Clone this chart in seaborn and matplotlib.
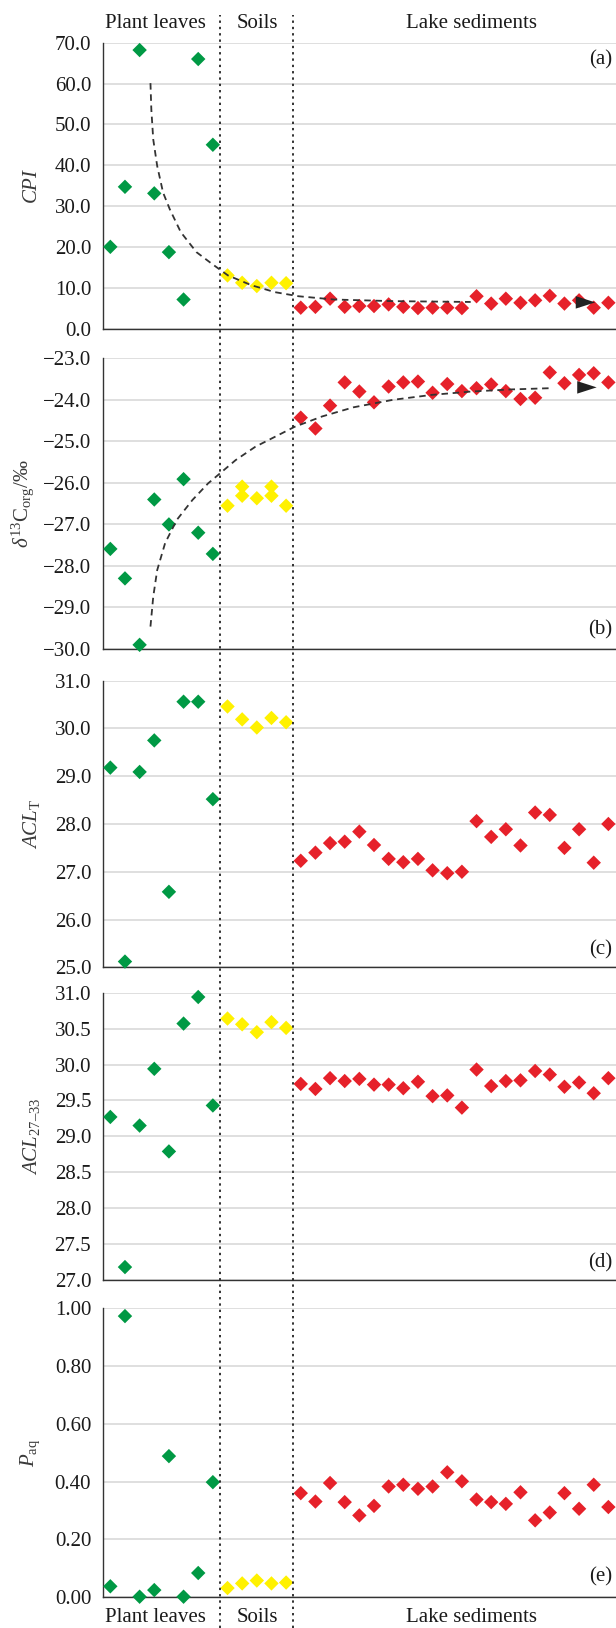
import numpy as np
import pandas as pd
import matplotlib
matplotlib.use("Agg")
import matplotlib.pyplot as plt
from matplotlib.lines import Line2D
from matplotlib.ticker import FuncFormatter, MultipleLocator
from matplotlib.transforms import blended_transform_factory
import seaborn as sns

# ---------------- data ----------------
groups = ["Plant leaves", "Soils", "Lake sediments"]
group_sizes = [8, 5, 22]

cpi_leaves = [20.0, 34.7, 68.2, 33.1, 18.7, 7.1, 66.0, 45.0]
cpi_soils = [13.0, 11.2, 10.4, 11.2, 11.1]
cpi_lake = [5.1, 5.3, 7.3, 5.3, 5.5, 5.5, 5.9, 5.3, 5.0, 5.1, 5.1,
            5.0, 7.9, 6.1, 7.3, 6.3, 6.9, 8.0, 6.1, 6.9, 5.1, 6.3]

d13c_leaves = [-27.59, -28.30, -29.90, -26.40, -27.00, -25.91, -27.20, -27.71]
d13c_soils = [-26.55, -26.09, -26.31, -26.37, -26.09, -26.31, -26.55]
d13c_soil_samples = [1, 2, 2, 3, 4, 4, 5]
d13c_lake = [-24.43, -24.69, -24.14, -23.58, -23.80, -24.06, -23.68, -23.58,
             -23.56, -23.83, -23.62, -23.79, -23.72, -23.63, -23.79, -23.98,
             -23.95, -23.34, -23.60, -23.40, -23.36, -23.58]

aclt_leaves = [29.18, 25.12, 29.09, 29.75, 26.58, 30.56, 30.56, 28.52]
aclt_soils = [30.46, 30.19, 30.02, 30.22, 30.13]
aclt_lake = [27.23, 27.40, 27.60, 27.63, 27.84, 27.56, 27.27, 27.20, 27.27,
             27.03, 26.97, 27.00, 28.06, 27.73, 27.89, 27.55, 28.24, 28.19,
             27.50, 27.89, 27.19, 28.00]

acl2733_leaves = [29.27, 27.18, 29.15, 29.94, 28.79, 30.57, 30.94, 29.43]
acl2733_soils = [30.64, 30.56, 30.45, 30.59, 30.51]
acl2733_lake = [29.73, 29.66, 29.81, 29.77, 29.80, 29.72, 29.72, 29.67, 29.76,
                29.56, 29.57, 29.40, 29.93, 29.70, 29.77, 29.78, 29.91, 29.86,
                29.69, 29.75, 29.60, 29.81]

paq_leaves = [0.038, 0.972, 0.002, 0.025, 0.488, 0.002, 0.084, 0.398]
paq_soils = [0.032, 0.048, 0.058, 0.048, 0.051]
paq_lake = [0.360, 0.331, 0.395, 0.329, 0.283, 0.316, 0.383, 0.389, 0.375,
            0.383, 0.432, 0.401, 0.338, 0.329, 0.323, 0.363, 0.266, 0.293,
            0.360, 0.306, 0.389, 0.312]

# hand-drawn trend curves, last point = arrow tip
trend_a_x = [3.24, 3.30, 3.43, 3.70, 4.10, 4.56, 5.31, 6.38, 7.45, 8.53,
             10.13, 11.74, 13.35, 15.76, 19.8, 25.1, 33.6]
trend_a_y = [60.1, 53.6, 46.3, 39.8, 33.3, 29.2, 23.6, 18.7, 15.8, 13.0,
             10.6, 8.9, 7.9, 7.1, 6.7, 6.5, 6.4]
trend_b_x = [3.24, 3.43, 3.70, 4.24, 5.04, 6.11, 7.18, 7.99, 9.06, 10.40,
             11.74, 13.08, 14.96, 17.10, 19.79, 22.47, 25.15, 27.83, 30.5, 33.7]
trend_b_y = [-29.46, -28.74, -28.10, -27.45, -26.89, -26.41, -26.01, -25.77,
             -25.45, -25.13, -24.89, -24.65, -24.40, -24.18, -24.00, -23.88,
             -23.80, -23.75, -23.72, -23.70]

panel_letters = ["(a)", "(b)", "(c)", "(d)", "(e)"]
ylabels = [r"$CPI$",
           r"$\delta^{13}\mathrm{C}_{\mathrm{org}}$/‰",
           r"$ACL_{\mathrm{T}}$",
           r"$ACL_{27–33}$",
           r"$P_{\mathrm{aq}}$"]
ylims = [(0, 70), (-30, -23), (25, 31), (27, 31), (0, 1)]
ytick_steps = [10, 1, 1, 0.5, 0.2]
ytick_decimals = [1, 1, 1, 1, 2]

# ---------------- style ----------------
sns.set_style("white")
plt.rcParams["font.family"] = ["Liberation Serif", "DejaVu Serif"]
plt.rcParams["mathtext.fontset"] = "custom"
plt.rcParams["mathtext.rm"] = "Liberation Serif"
plt.rcParams["mathtext.it"] = "Liberation Serif:italic"
plt.rcParams["mathtext.bf"] = "Liberation Serif:bold"

palette = dict(zip(groups, ["#009944", "#FFF100", "#E6212A"]))
offsets = np.cumsum([0] + group_sizes[:-1])


def make_frame(leaves, soils, lake, soil_samples=None):
    if soil_samples is None:
        soil_samples = list(range(1, len(soils) + 1))
    rows = []
    for i, v in enumerate(leaves):
        rows.append((groups[0], offsets[0] + i + 0.5, v))
    for s, v in zip(soil_samples, soils):
        rows.append((groups[1], offsets[1] + s - 0.5, v))
    for i, v in enumerate(lake):
        rows.append((groups[2], offsets[2] + i + 0.5, v))
    return pd.DataFrame(rows, columns=["group", "x", "y"])


frames = [
    make_frame(cpi_leaves, cpi_soils, cpi_lake),
    make_frame(d13c_leaves, d13c_soils, d13c_lake, d13c_soil_samples),
    make_frame(aclt_leaves, aclt_soils, aclt_lake),
    make_frame(acl2733_leaves, acl2733_soils, acl2733_lake),
    make_frame(paq_leaves, paq_soils, paq_lake),
]
trends = {0: (trend_a_x, trend_a_y), 1: (trend_b_x, trend_b_y)}

# ---------------- layout ----------------
W, H = 616, 1628
fig = plt.figure(figsize=(W / 100, H / 100), dpi=100)
panel_px = [(42.7, 328.5), (358.3, 649.0), (680.7, 967.3), (992.7, 1280.0), (1308.0, 1597.3)]
left_px = 103
x_max = 35.02
label_center_px = [33, 23, 31.5, 31.5, 30]
letter_y = [0.939, 0.065, 0.06, 0.06, 0.071]
letter_va = "center"
FS = 15

axes = []
for k, df in enumerate(frames):
    top, bot = panel_px[k]
    ax = fig.add_axes([left_px / W, 1 - bot / H, 1 - left_px / W, (bot - top) / H])
    axes.append(ax)
    sns.scatterplot(data=df, x="x", y="y", hue="group", hue_order=groups,
                    palette=palette, marker="D", s=54, linewidth=0,
                    legend=False, ax=ax, clip_on=False, zorder=3)
    ax.set_xlim(0, x_max)
    ax.set_ylim(*ylims[k])
    ax.yaxis.set_major_locator(MultipleLocator(ytick_steps[k]))
    dec = ytick_decimals[k]
    ax.yaxis.set_major_formatter(
        FuncFormatter(lambda v, p, d=dec: f"{v:.{d}f}".replace("-", "\u2212")))
    ax.set_xticks([])
    ax.set_xlabel("")
    ax.set_ylabel(ylabels[k], fontsize=FS, color="#3a3a3a", va="center", ha="center")
    ax.yaxis.set_label_coords((label_center_px[k] - left_px) / (W - left_px), 0.5)
    ax.grid(axis="y", color="#dcdcdc", lw=1.3)
    ax.grid(axis="x", visible=False)
    ax.set_axisbelow(True)
    for s in ["top", "right"]:
        ax.spines[s].set_visible(False)
    for s in ["left", "bottom"]:
        ax.spines[s].set_color("#333333")
        ax.spines[s].set_linewidth(1.0)
    ax.tick_params(axis="y", direction="out", length=4.5, width=1.0,
                   color="#333333", pad=4, labelsize=FS, labelcolor="#1a1a1a")
    ax.text(0.992, letter_y[k], panel_letters[k], transform=ax.transAxes,
            ha="right", va=letter_va, fontsize=FS, color="#1a1a1a")

    if k in trends:
        tx, ty = trends[k]
        ax.plot(tx[:-1], ty[:-1], color="#333333", lw=1.3,
                linestyle=(0, (3.6, 2.6)), zorder=4, solid_capstyle="butt")
        ax.annotate("", xy=(tx[-1], ty[-1]), xytext=(tx[-1] - 2.0, ty[-1]),
                    arrowprops=dict(arrowstyle="-|>,head_length=1.4,head_width=0.45",
                                    mutation_scale=10, lw=0, fc="#222222",
                                    ec="none", shrinkA=0, shrinkB=0),
                    zorder=5)

# dotted group separators across the whole figure
trans = blended_transform_factory(axes[-1].transData, fig.transFigure)
for xb in np.cumsum(group_sizes)[:-1]:
    fig.add_artist(Line2D([xb, xb], [0, 1 - 15 / H], transform=trans,
                          color="#222222", lw=1.3, linestyle=(0, (1.3, 2.2))))

# group labels at top and bottom
group_label_x = [3.6, 10.55, 25.15]
for g, lx in zip(groups, group_label_x):
    fig.text(lx, 1 - 28 / H, g, transform=trans, ha="center", va="baseline",
             fontsize=FS, color="#1a1a1a")
    fig.text(lx, 1 - 1622.5 / H, g, transform=trans, ha="center", va="baseline",
             fontsize=FS, color="#1a1a1a")

fig.savefig("out.png", dpi=100)
